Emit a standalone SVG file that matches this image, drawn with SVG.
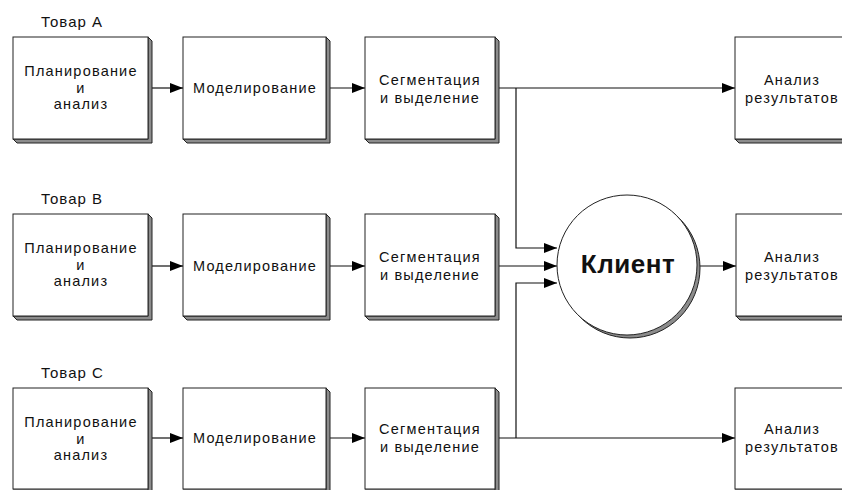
<svg xmlns="http://www.w3.org/2000/svg" width="842" height="490" viewBox="0 0 842 490">
  <defs>
    <marker id="arrow" viewBox="0 0 13 10" refX="13" refY="5" markerWidth="13" markerHeight="10" markerUnits="userSpaceOnUse" orient="auto">
      <path d="M0,0 L13,5 L0,10 Z" fill="#000"/>
    </marker>
    <style>
      .face { fill: #fff; stroke: #222; stroke-width: 1; }
      .side { fill: #8c8c8c; stroke: #222; stroke-width: 1; stroke-linejoin: miter; }
      .lbl { font-family: "Liberation Sans", Arial, sans-serif; font-size: 14.5px; letter-spacing: 1.2px; fill: #111; text-anchor: middle; }
      .title { font-family: "Liberation Sans", Arial, sans-serif; font-size: 15px; letter-spacing: 1px; fill: #111; }
      .big { font-family: "Liberation Sans", Arial, sans-serif; font-size: 26px; letter-spacing: 0.5px; font-weight: bold; fill: #111; text-anchor: middle; }
      .wire { fill: none; stroke: #111; stroke-width: 1.2; }
    </style>
  </defs>

  <!-- row titles -->
  <text class="title" x="41" y="27">Товар  А</text>
  <text class="title" x="41" y="204">Товар  В</text>
  <text class="title" x="41" y="378">Товар  С</text>

  <!-- connectors -->
  <g id="connectors">
    <!-- row A -->
    <line class="wire" x1="152" y1="88" x2="183" y2="88" marker-end="url(#arrow)"/>
    <line class="wire" x1="330" y1="88" x2="365" y2="88" marker-end="url(#arrow)"/>
    <line class="wire" x1="499" y1="88" x2="735" y2="88" marker-end="url(#arrow)"/>
    <polyline class="wire" points="516,88 516,248 557,248" marker-end="url(#arrow)"/>
    <!-- row B -->
    <line class="wire" x1="152" y1="266" x2="183" y2="266" marker-end="url(#arrow)"/>
    <line class="wire" x1="330" y1="266" x2="365" y2="266" marker-end="url(#arrow)"/>
    <line class="wire" x1="499" y1="266" x2="557" y2="266" marker-end="url(#arrow)"/>
    <line class="wire" x1="699" y1="266" x2="736" y2="266" marker-end="url(#arrow)"/>
    <!-- row C -->
    <line class="wire" x1="152" y1="438" x2="183" y2="438" marker-end="url(#arrow)"/>
    <line class="wire" x1="330" y1="438" x2="365" y2="438" marker-end="url(#arrow)"/>
    <line class="wire" x1="499" y1="438" x2="735" y2="438" marker-end="url(#arrow)"/>
    <polyline class="wire" points="516,438 516,283 557,283" marker-end="url(#arrow)"/>
  </g>

  <!-- row A -->
  <g id="plan-a">
    <path class="side" d="M148,37 L152,41 L152,143 L17,143 L13,139 L148,139 Z"/>
    <rect class="face" x="13" y="37" width="135" height="102"/>
    <text class="lbl" x="81" y="76">Планирование</text>
    <text class="lbl" x="81" y="92.5">и</text>
    <text class="lbl" x="81" y="109">анализ</text>
  </g>
  <g id="model-a">
    <path class="side" d="M326,37 L330,41 L330,143 L187,143 L183,139 L326,139 Z"/>
    <rect class="face" x="183" y="37" width="143" height="102"/>
    <text class="lbl" x="255" y="93">Моделирование</text>
  </g>
  <g id="segment-a">
    <path class="side" d="M495,37 L499,41 L499,143 L369,143 L365,139 L495,139 Z"/>
    <rect class="face" x="365" y="37" width="130" height="102"/>
    <text class="lbl" x="430" y="85">Сегментация</text>
    <text class="lbl" x="430" y="103">и  выделение</text>
  </g>
  <g id="result-a">
    <path class="side" d="M845,37 L849,41 L849,143 L739,143 L735,139 L845,139 Z"/>
    <rect class="face" x="735" y="37" width="110" height="102"/>
    <text class="lbl" x="792" y="85">Анализ</text>
    <text class="lbl" x="792" y="103">результатов</text>
  </g>

  <!-- row B -->
  <g id="plan-b">
    <path class="side" d="M148,214 L152,218 L152,320 L17,320 L13,316 L148,316 Z"/>
    <rect class="face" x="13" y="214" width="135" height="102"/>
    <text class="lbl" x="81" y="253">Планирование</text>
    <text class="lbl" x="81" y="269.5">и</text>
    <text class="lbl" x="81" y="286">анализ</text>
  </g>
  <g id="model-b">
    <path class="side" d="M326,214 L330,218 L330,320 L187,320 L183,316 L326,316 Z"/>
    <rect class="face" x="183" y="214" width="143" height="102"/>
    <text class="lbl" x="255" y="271">Моделирование</text>
  </g>
  <g id="segment-b">
    <path class="side" d="M495,214 L499,218 L499,320 L369,320 L365,316 L495,316 Z"/>
    <rect class="face" x="365" y="214" width="130" height="102"/>
    <text class="lbl" x="430" y="262">Сегментация</text>
    <text class="lbl" x="430" y="280">и  выделение</text>
  </g>
  <g id="result-b">
    <path class="side" d="M845,214 L849,218 L849,320 L740,320 L736,316 L845,316 Z"/>
    <rect class="face" x="736" y="214" width="109" height="102"/>
    <text class="lbl" x="792" y="262">Анализ</text>
    <text class="lbl" x="792" y="280">результатов</text>
  </g>

  <!-- row C -->
  <g id="plan-c">
    <path class="side" d="M148,388 L152,392 L152,494 L17,494 L13,490 L148,490 Z"/>
    <rect class="face" x="13" y="388" width="135" height="101"/>
    <text class="lbl" x="81" y="427">Планирование</text>
    <text class="lbl" x="81" y="443.5">и</text>
    <text class="lbl" x="81" y="460">анализ</text>
  </g>
  <g id="model-c">
    <path class="side" d="M326,388 L330,392 L330,494 L187,494 L183,490 L326,490 Z"/>
    <rect class="face" x="183" y="388" width="143" height="101"/>
    <text class="lbl" x="255" y="443">Моделирование</text>
  </g>
  <g id="segment-c">
    <path class="side" d="M495,388 L499,392 L499,494 L369,494 L365,490 L495,490 Z"/>
    <rect class="face" x="365" y="388" width="130" height="101"/>
    <text class="lbl" x="430" y="434">Сегментация</text>
    <text class="lbl" x="430" y="452">и  выделение</text>
  </g>
  <g id="result-c">
    <path class="side" d="M845,388 L849,392 L849,494 L739,494 L735,490 L845,490 Z"/>
    <rect class="face" x="735" y="388" width="110" height="101"/>
    <text class="lbl" x="792" y="434">Анализ</text>
    <text class="lbl" x="792" y="452">результатов</text>
  </g>

  <!-- client -->
  <g id="client">
    <circle cx="630" cy="268" r="70" fill="#8c8c8c" stroke="#222" stroke-width="1"/>
    <circle cx="627" cy="265" r="70" fill="#fff" stroke="#222" stroke-width="1"/>
    <text class="big" x="628" y="273">Клиент</text>
  </g>
</svg>
